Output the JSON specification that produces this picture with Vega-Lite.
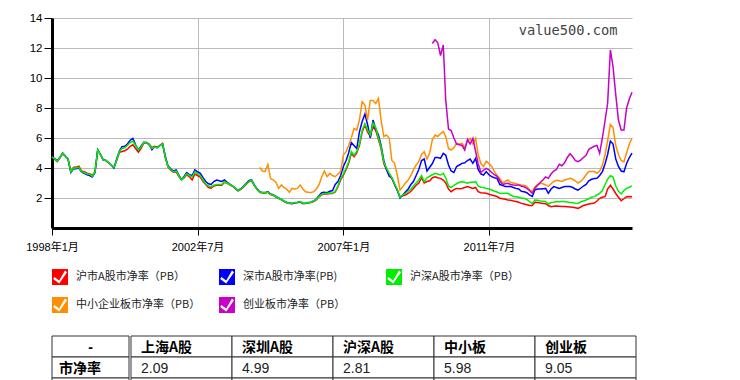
{
"$schema": "https://vega.github.io/schema/vega-lite/v6.json",
"background": "white",
"padding": {"left": 25, "top": 12, "right": 5, "bottom": 5},
"spacing": 22,
"config": {"view": {"stroke": null}, "font": "Liberation Sans"},
"resolve": {"legend": {"color": "independent"}},
"datasets": {
"names": [{"k":"r","n":"沪市A股市净率（PB）"},{"k":"b","n":"深市A股市净率(PB)"},{"k":"g","n":"沪深A股市净率（PB）"},{"k":"o","n":"中小企业板市净率（PB）"},{"k":"p","n":"创业板市净率（PB）"}],
"tA": [{"c":"-","v":"市净率"}],
"tB": [{"c":"上海A股","v":"2.09"},{"c":"深圳A股","v":"4.99"},{"c":"沪深A股","v":"2.81"},{"c":"中小板","v":"5.98"},{"c":"创业板","v":"9.05"}],
"pb": [
{"d":"1998-01-01","r":4.72,"b":4.75,"g":4.75},
{"d":"1998-02-01","r":4.58,"b":4.62,"g":4.6},
{"d":"1998-03-01","r":4.42,"b":4.48,"g":4.45},
{"d":"1998-04-01","r":4.68,"b":4.72,"g":4.7},
{"d":"1998-05-01","r":4.95,"b":5.0,"g":4.98},
{"d":"1998-06-01","r":4.78,"b":4.8,"g":4.8},
{"d":"1998-07-01","r":4.6,"b":4.6,"g":4.6},
{"d":"1998-08-01","r":3.78,"b":3.7,"g":3.75},
{"d":"1998-09-01","r":4.05,"b":3.95,"g":4.0},
{"d":"1998-10-01","r":4.05,"b":3.95,"g":4.0},
{"d":"1998-11-01","r":4.12,"b":4.0,"g":4.05},
{"d":"1998-12-01","r":3.8,"b":3.72,"g":3.75},
{"d":"1999-01-01","r":3.75,"b":3.65,"g":3.7},
{"d":"1999-02-01","r":3.65,"b":3.55,"g":3.6},
{"d":"1999-03-01","r":3.62,"b":3.5,"g":3.6},
{"d":"1999-04-01","r":3.5,"b":3.4,"g":3.45},
{"d":"1999-05-01","r":3.75,"b":3.7,"g":3.75},
{"d":"1999-06-01","r":5.2,"b":5.22,"g":5.2},
{"d":"1999-07-01","r":4.9,"b":4.9,"g":4.9},
{"d":"1999-08-01","r":4.55,"b":4.55,"g":4.55},
{"d":"1999-09-01","r":4.5,"b":4.5,"g":4.5},
{"d":"1999-10-01","r":4.35,"b":4.35,"g":4.35},
{"d":"1999-11-01","r":4.2,"b":4.2,"g":4.2},
{"d":"1999-12-01","r":4.05,"b":4.0,"g":4.05},
{"d":"2000-01-01","r":4.5,"b":4.6,"g":4.55},
{"d":"2000-02-01","r":5.05,"b":5.15,"g":5.1},
{"d":"2000-03-01","r":5.1,"b":5.42,"g":5.3},
{"d":"2000-04-01","r":5.15,"b":5.45,"g":5.35},
{"d":"2000-05-01","r":5.25,"b":5.6,"g":5.5},
{"d":"2000-06-01","r":5.45,"b":5.85,"g":5.7},
{"d":"2000-07-01","r":5.55,"b":5.98,"g":5.8},
{"d":"2000-08-01","r":5.3,"b":5.55,"g":5.5},
{"d":"2000-09-01","r":5.05,"b":5.2,"g":5.2},
{"d":"2000-10-01","r":5.3,"b":5.45,"g":5.4},
{"d":"2000-11-01","r":5.65,"b":5.72,"g":5.7},
{"d":"2000-12-01","r":5.7,"b":5.7,"g":5.7},
{"d":"2001-01-01","r":5.6,"b":5.55,"g":5.55},
{"d":"2001-02-01","r":5.35,"b":5.22,"g":5.3},
{"d":"2001-03-01","r":5.45,"b":5.4,"g":5.4},
{"d":"2001-04-01","r":5.38,"b":5.35,"g":5.35},
{"d":"2001-05-01","r":5.5,"b":5.5,"g":5.5},
{"d":"2001-06-01","r":5.65,"b":5.6,"g":5.62},
{"d":"2001-07-01","r":4.75,"b":4.8,"g":4.75},
{"d":"2001-08-01","r":4.05,"b":4.15,"g":4.1},
{"d":"2001-09-01","r":3.85,"b":3.95,"g":3.9},
{"d":"2001-10-01","r":3.72,"b":3.8,"g":3.75},
{"d":"2001-11-01","r":3.75,"b":3.87,"g":3.8},
{"d":"2001-12-01","r":3.45,"b":3.55,"g":3.5},
{"d":"2002-01-01","r":3.2,"b":3.22,"g":3.2},
{"d":"2002-02-01","r":3.35,"b":3.45,"g":3.4},
{"d":"2002-03-01","r":3.55,"b":3.7,"g":3.6},
{"d":"2002-04-01","r":3.4,"b":3.55,"g":3.5},
{"d":"2002-05-01","r":3.2,"b":3.5,"g":3.4},
{"d":"2002-06-01","r":3.6,"b":3.87,"g":3.75},
{"d":"2002-07-01","r":3.5,"b":3.75,"g":3.6},
{"d":"2002-08-01","r":3.4,"b":3.65,"g":3.5},
{"d":"2002-09-01","r":3.1,"b":3.35,"g":3.2},
{"d":"2002-10-01","r":2.9,"b":3.1,"g":2.95},
{"d":"2002-11-01","r":2.7,"b":2.95,"g":2.8},
{"d":"2002-12-01","r":2.65,"b":2.9,"g":2.75},
{"d":"2003-01-01","r":2.8,"b":3.1,"g":2.85},
{"d":"2003-02-01","r":2.85,"b":3.2,"g":2.9},
{"d":"2003-03-01","r":2.85,"b":3.15,"g":2.9},
{"d":"2003-04-01","r":2.85,"b":3.1,"g":2.9},
{"d":"2003-05-01","r":3.05,"b":3.2,"g":3.1},
{"d":"2003-06-01","r":2.98,"b":3.05,"g":3.0},
{"d":"2003-07-01","r":2.88,"b":2.92,"g":2.9},
{"d":"2003-08-01","r":2.78,"b":2.8,"g":2.8},
{"d":"2003-09-01","r":2.62,"b":2.65,"g":2.65},
{"d":"2003-10-01","r":2.48,"b":2.5,"g":2.5},
{"d":"2003-11-01","r":2.58,"b":2.62,"g":2.6},
{"d":"2003-12-01","r":2.72,"b":2.78,"g":2.75},
{"d":"2004-01-01","r":2.92,"b":2.98,"g":2.95},
{"d":"2004-02-01","r":3.08,"b":3.15,"g":3.1},
{"d":"2004-03-01","r":3.18,"b":3.22,"g":3.2},
{"d":"2004-04-01","r":2.82,"b":2.88,"g":2.85},
{"d":"2004-05-01","r":2.58,"b":2.62,"g":2.6},
{"d":"2004-06-01","r":2.38,"b":2.42,"g":2.4,"o":4.04},
{"d":"2004-07-01","r":2.33,"b":2.36,"g":2.35,"o":3.8},
{"d":"2004-08-01","r":2.33,"b":2.36,"g":2.35,"o":3.76},
{"d":"2004-09-01","r":2.38,"b":2.42,"g":2.4,"o":4.24},
{"d":"2004-10-01","r":2.23,"b":2.26,"g":2.25,"o":3.31},
{"d":"2004-11-01","r":2.18,"b":2.22,"g":2.2,"o":3.2},
{"d":"2004-12-01","r":2.08,"b":2.1,"g":2.1,"o":3.05},
{"d":"2005-01-01","r":1.98,"b":2.0,"g":2.0,"o":2.64},
{"d":"2005-02-01","r":1.88,"b":1.9,"g":1.9,"o":2.87},
{"d":"2005-03-01","r":1.78,"b":1.8,"g":1.8,"o":2.7},
{"d":"2005-04-01","r":1.68,"b":1.72,"g":1.7,"o":2.6},
{"d":"2005-05-01","r":1.63,"b":1.66,"g":1.65,"o":2.38},
{"d":"2005-06-01","r":1.63,"b":1.62,"g":1.65,"o":2.64},
{"d":"2005-07-01","r":1.68,"b":1.68,"g":1.7,"o":2.6},
{"d":"2005-08-01","r":1.7,"b":1.7,"g":1.72,"o":2.64},
{"d":"2005-09-01","r":1.74,"b":1.75,"g":1.76,"o":2.87},
{"d":"2005-10-01","r":1.63,"b":1.64,"g":1.65,"o":2.6},
{"d":"2005-11-01","r":1.63,"b":1.65,"g":1.65,"o":2.42},
{"d":"2005-12-01","r":1.68,"b":1.7,"g":1.7,"o":2.38},
{"d":"2006-01-01","r":1.7,"b":1.72,"g":1.72,"o":2.36},
{"d":"2006-02-01","r":1.78,"b":1.8,"g":1.8,"o":2.42},
{"d":"2006-03-01","r":1.88,"b":1.92,"g":1.9,"o":2.6},
{"d":"2006-04-01","r":2.08,"b":2.15,"g":2.1,"o":2.87},
{"d":"2006-05-01","r":2.22,"b":2.35,"g":2.25,"o":3.4},
{"d":"2006-06-01","r":2.27,"b":2.38,"g":2.3,"o":3.8},
{"d":"2006-07-01","r":2.27,"b":2.35,"g":2.3,"o":3.42},
{"d":"2006-08-01","r":2.3,"b":2.45,"g":2.35,"o":3.64},
{"d":"2006-09-01","r":2.3,"b":2.5,"g":2.3,"o":3.5},
{"d":"2006-10-01","r":2.4,"b":2.9,"g":2.45,"o":3.42},
{"d":"2006-11-01","r":2.76,"b":3.1,"g":2.8,"o":3.6},
{"d":"2006-12-01","r":3.2,"b":3.5,"g":3.3,"o":3.76},
{"d":"2007-01-01","r":3.53,"b":4.1,"g":3.6,"o":4.87},
{"d":"2007-02-01","r":3.9,"b":4.5,"g":4.0,"o":5.09},
{"d":"2007-03-01","r":4.3,"b":5.0,"g":4.4,"o":5.5},
{"d":"2007-04-01","r":4.98,"b":5.7,"g":5.1,"o":6.0},
{"d":"2007-05-01","r":4.75,"b":5.5,"g":4.85,"o":6.64},
{"d":"2007-06-01","r":5.0,"b":5.3,"g":5.1,"o":6.53},
{"d":"2007-07-01","r":5.5,"b":6.4,"g":5.6,"o":7.2},
{"d":"2007-08-01","r":6.4,"b":7.1,"g":6.5,"o":8.42},
{"d":"2007-09-01","r":6.87,"b":7.6,"g":6.95,"o":8.2},
{"d":"2007-10-01","r":6.4,"b":6.9,"g":6.55,"o":7.2},
{"d":"2007-11-01","r":6.1,"b":6.0,"g":6.2,"o":8.5},
{"d":"2007-12-01","r":6.8,"b":7.2,"g":7.0,"o":8.5},
{"d":"2008-01-01","r":6.5,"b":6.6,"g":6.7,"o":8.3},
{"d":"2008-02-01","r":5.9,"b":6.2,"g":6.0,"o":8.64},
{"d":"2008-03-01","r":5.3,"b":5.5,"g":5.4,"o":7.2},
{"d":"2008-04-01","r":4.3,"b":4.5,"g":4.4,"o":6.1},
{"d":"2008-05-01","r":3.9,"b":3.9,"g":4.0,"o":6.2},
{"d":"2008-06-01","r":3.6,"b":3.45,"g":3.65,"o":6.0},
{"d":"2008-07-01","r":3.3,"b":3.35,"g":3.35,"o":4.5},
{"d":"2008-08-01","r":2.9,"b":2.9,"g":2.95,"o":4.31},
{"d":"2008-09-01","r":2.5,"b":2.5,"g":2.55,"o":3.5},
{"d":"2008-10-01","r":2.09,"b":2.0,"g":2.05,"o":2.53},
{"d":"2008-11-01","r":2.15,"b":2.2,"g":2.2,"o":2.76},
{"d":"2008-12-01","r":2.2,"b":2.4,"g":2.3,"o":3.0},
{"d":"2009-01-01","r":2.3,"b":2.6,"g":2.45,"o":3.2},
{"d":"2009-02-01","r":2.45,"b":2.9,"g":2.6,"o":3.5},
{"d":"2009-03-01","r":2.64,"b":3.1,"g":2.8,"o":3.87},
{"d":"2009-04-01","r":2.85,"b":3.5,"g":3.0,"o":4.2},
{"d":"2009-05-01","r":3.0,"b":3.9,"g":3.2,"o":4.42},
{"d":"2009-06-01","r":3.35,"b":4.5,"g":3.5,"o":4.9},
{"d":"2009-07-01","r":3.0,"b":4.6,"g":3.1,"o":5.09},
{"d":"2009-08-01","r":3.1,"b":3.8,"g":3.35,"o":4.6},
{"d":"2009-09-01","r":3.15,"b":4.05,"g":3.45,"o":5.0},
{"d":"2009-10-01","r":3.35,"b":4.3,"g":3.55,"o":5.9,"p":12.3},
{"d":"2009-11-01","r":3.42,"b":4.7,"g":3.64,"o":6.2,"p":12.55},
{"d":"2009-12-01","r":3.35,"b":4.7,"g":3.58,"o":6.1,"p":12.35},
{"d":"2010-01-01","r":3.31,"b":4.64,"g":3.53,"o":6.3,"p":11.5},
{"d":"2010-02-01","r":3.2,"b":4.98,"g":3.64,"o":6.42,"p":12.2},
{"d":"2010-03-01","r":3.0,"b":4.85,"g":3.35,"o":6.1,"p":8.5},
{"d":"2010-04-01","r":2.6,"b":4.2,"g":2.8,"o":5.3,"p":6.6},
{"d":"2010-05-01","r":2.42,"b":3.8,"g":2.7,"o":5.2,"p":6.5},
{"d":"2010-06-01","r":2.55,"b":3.7,"g":2.85,"o":5.35,"p":6.0},
{"d":"2010-07-01","r":2.64,"b":4.1,"g":2.95,"o":5.64,"p":5.6},
{"d":"2010-08-01","r":2.62,"b":4.2,"g":3.05,"o":5.6,"p":5.55},
{"d":"2010-09-01","r":2.64,"b":4.31,"g":3.09,"o":5.64,"p":5.5},
{"d":"2010-10-01","r":2.7,"b":4.35,"g":3.05,"o":5.35,"p":5.2},
{"d":"2010-11-01","r":2.76,"b":4.5,"g":2.98,"o":5.8,"p":5.9},
{"d":"2010-12-01","r":2.7,"b":4.6,"g":3.05,"o":5.98,"p":5.6},
{"d":"2011-01-01","r":2.64,"b":4.31,"g":3.05,"o":5.6,"p":5.98},
{"d":"2011-02-01","r":2.7,"b":4.64,"g":3.09,"o":5.98,"p":5.1},
{"d":"2011-03-01","r":2.42,"b":3.9,"g":2.8,"o":4.9,"p":4.3},
{"d":"2011-04-01","r":2.35,"b":3.6,"g":2.72,"o":4.3,"p":3.7},
{"d":"2011-05-01","r":2.33,"b":3.53,"g":2.7,"o":4.1,"p":3.85},
{"d":"2011-06-01","r":2.31,"b":3.76,"g":2.64,"o":4.45,"p":3.98},
{"d":"2011-07-01","r":2.25,"b":3.55,"g":2.6,"o":4.3,"p":3.87},
{"d":"2011-08-01","r":2.2,"b":3.42,"g":2.53,"o":4.1,"p":3.7},
{"d":"2011-09-01","r":2.15,"b":3.35,"g":2.45,"o":3.76,"p":3.55},
{"d":"2011-10-01","r":2.1,"b":3.31,"g":2.4,"o":3.5,"p":3.45},
{"d":"2011-11-01","r":1.98,"b":2.9,"g":2.31,"o":3.3,"p":3.15},
{"d":"2011-12-01","r":1.95,"b":2.85,"g":2.3,"o":3.0,"p":2.9},
{"d":"2012-01-01","r":1.92,"b":2.76,"g":2.31,"o":3.1,"p":2.95},
{"d":"2012-02-01","r":1.87,"b":2.76,"g":2.31,"o":3.2,"p":2.98},
{"d":"2012-03-01","r":1.85,"b":2.76,"g":2.2,"o":3.05,"p":2.9},
{"d":"2012-04-01","r":1.8,"b":2.7,"g":2.1,"o":3.0,"p":2.87},
{"d":"2012-05-01","r":1.76,"b":2.64,"g":2.09,"o":2.95,"p":2.85},
{"d":"2012-06-01","r":1.72,"b":2.6,"g":2.05,"o":2.9,"p":2.87},
{"d":"2012-07-01","r":1.64,"b":2.45,"g":1.98,"o":2.87,"p":2.78},
{"d":"2012-08-01","r":1.6,"b":2.42,"g":1.98,"o":2.85,"p":2.75},
{"d":"2012-09-01","r":1.55,"b":2.35,"g":1.9,"o":2.76,"p":2.64},
{"d":"2012-10-01","r":1.5,"b":2.2,"g":1.75,"o":2.55,"p":2.5},
{"d":"2012-11-01","r":1.5,"b":2.1,"g":1.64,"o":2.42,"p":2.31},
{"d":"2012-12-01","r":1.72,"b":2.55,"g":1.87,"o":2.75,"p":2.65},
{"d":"2013-01-01","r":1.7,"b":2.6,"g":1.85,"o":2.9,"p":2.85},
{"d":"2013-02-01","r":1.66,"b":2.6,"g":1.8,"o":2.98,"p":3.05},
{"d":"2013-03-01","r":1.64,"b":2.62,"g":1.78,"o":2.95,"p":3.2},
{"d":"2013-04-01","r":1.62,"b":2.64,"g":1.76,"o":2.87,"p":3.4},
{"d":"2013-05-01","r":1.5,"b":2.31,"g":1.6,"o":2.78,"p":3.31},
{"d":"2013-06-01","r":1.42,"b":2.6,"g":1.7,"o":2.95,"p":3.6},
{"d":"2013-07-01","r":1.45,"b":2.76,"g":1.72,"o":3.1,"p":3.8},
{"d":"2013-08-01","r":1.46,"b":2.7,"g":1.76,"o":3.18,"p":3.9},
{"d":"2013-09-01","r":1.45,"b":2.64,"g":1.75,"o":3.15,"p":4.25},
{"d":"2013-10-01","r":1.44,"b":2.7,"g":1.76,"o":3.1,"p":4.15},
{"d":"2013-11-01","r":1.43,"b":2.76,"g":1.76,"o":3.2,"p":4.35},
{"d":"2013-12-01","r":1.42,"b":2.76,"g":1.73,"o":3.25,"p":4.7},
{"d":"2014-01-01","r":1.4,"b":2.76,"g":1.7,"o":3.31,"p":4.95},
{"d":"2014-02-01","r":1.38,"b":2.7,"g":1.68,"o":3.25,"p":4.75},
{"d":"2014-03-01","r":1.35,"b":2.6,"g":1.65,"o":3.15,"p":4.5},
{"d":"2014-04-01","r":1.31,"b":2.53,"g":1.64,"o":3.0,"p":4.42},
{"d":"2014-05-01","r":1.4,"b":2.65,"g":1.75,"o":3.1,"p":4.53},
{"d":"2014-06-01","r":1.5,"b":2.8,"g":1.8,"o":3.3,"p":4.7},
{"d":"2014-07-01","r":1.55,"b":2.9,"g":1.87,"o":3.55,"p":4.85},
{"d":"2014-08-01","r":1.6,"b":3.15,"g":1.95,"o":3.76,"p":5.25},
{"d":"2014-09-01","r":1.64,"b":3.25,"g":2.05,"o":3.76,"p":5.35},
{"d":"2014-10-01","r":1.66,"b":3.3,"g":2.09,"o":3.76,"p":5.45},
{"d":"2014-11-01","r":1.8,"b":3.31,"g":2.2,"o":3.65,"p":5.5},
{"d":"2014-12-01","r":1.98,"b":3.5,"g":2.31,"o":3.8,"p":4.98},
{"d":"2015-01-01","r":2.05,"b":3.76,"g":2.5,"o":4.2,"p":6.0},
{"d":"2015-02-01","r":2.1,"b":4.3,"g":2.9,"o":4.9,"p":7.2},
{"d":"2015-03-01","r":2.6,"b":4.9,"g":3.25,"o":5.8,"p":8.3},
{"d":"2015-04-01","r":2.85,"b":5.8,"g":3.49,"o":6.9,"p":11.87},
{"d":"2015-05-01","r":2.6,"b":5.6,"g":3.4,"o":6.7,"p":10.76},
{"d":"2015-06-01","r":2.3,"b":4.6,"g":2.8,"o":5.5,"p":8.87},
{"d":"2015-07-01","r":2.05,"b":4.1,"g":2.45,"o":4.9,"p":7.2},
{"d":"2015-08-01","r":1.82,"b":3.8,"g":2.27,"o":4.5,"p":6.53},
{"d":"2015-09-01","r":1.95,"b":3.75,"g":2.5,"o":4.4,"p":6.53},
{"d":"2015-10-01","r":2.09,"b":4.3,"g":2.64,"o":5.0,"p":8.0},
{"d":"2015-11-01","r":2.1,"b":4.7,"g":2.72,"o":5.6,"p":8.6},
{"d":"2015-12-01","r":2.09,"b":4.99,"g":2.81,"o":5.98,"p":9.05}
]
},
"vconcat": [
{
"width": 580,
"height": 210,
"layer": [
{
"data": {"name": "pb"},
"transform": [
{"fold": ["r","b","g","o","p"], "as": ["k","v"]},
{"lookup": "k", "from": {"data": {"name": "names"}, "key": "k", "fields": ["n"]}}
],
"mark": {"type": "line", "strokeWidth": 1.5},
"encoding": {
"x": {"field": "d", "type": "temporal",
"scale": {"type": "utc", "domain": [{"year": 1998, "month": 1, "date": 1, "utc": true}, {"year": 2015, "month": 12, "date": 1, "utc": true}]},
"axis": {"title": null, "values": [{"year": 1998, "month": 1, "date": 1, "utc": true}, {"year": 2002, "month": 7, "date": 1, "utc": true}, {"year": 2007, "month": 1, "date": 1, "utc": true}, {"year": 2011, "month": 7, "date": 1, "utc": true}], "tickCount": 30,
"format": "%Y年%-m月", "labelFlush": false, "labelOverlap": false, "labelAngle": 0, "labelFont": "Liberation Sans, Noto Sans CJK SC", "labelFontSize": 11, "labelColor": "#000", "labelPadding": 6,
"tickSize": 7, "tickColor": "#000", "tickWidth": 1, "domainColor": "#000", "domainWidth": 3, "grid": true, "gridColor": "#bbbbbb", "gridWidth": 1}},
"y": {"field": "v", "type": "quantitative",
"scale": {"domain": [0, 14], "nice": false},
"axis": {"title": null, "values": [2, 4, 6, 8, 10, 12, 14], "tickCount": 30, "format": "d", "labelOverlap": false, "labelFlush": false, "labelFont": "Liberation Sans", "labelFontSize": 11.5, "labelColor": "#000", "labelPadding": 2,
"tickSize": 8, "tickColor": "#000", "tickWidth": 1, "domainColor": "#000", "domainWidth": 3, "grid": true, "gridColor": "#bbbbbb", "gridWidth": 1}},
"color": {"field": "n", "type": "nominal",
"scale": {"domain": ["沪市A股市净率（PB）","深市A股市净率(PB)","沪深A股市净率（PB）","中小企业板市净率（PB）","创业板市净率（PB）"], "range": ["#ff0000","#0000ff","#00ee00","#ff8f00","#c800c8"]},
"legend": {"title": null, "orient": "none", "legendX": 0, "legendY": 251, "direction": "horizontal", "columns": 3, "gridAlign": "all", "columnPadding": 18, "rowPadding": 12,
"symbolType": "M-1,-1L1,-1L1,1L-1,1Z M-0.7,0 L-0.85,0.25 L-0.1,0.8 L0.88,-0.6 L0.62,-0.82 L-0.1,0.45 Z", "symbolSize": 256, "symbolStrokeWidth": 0,
"labelFont": "Noto Sans CJK SC", "labelFontSize": 11, "labelColor": "#222", "labelOffset": 8, "labelLimit": 300, "padding": 0,
"encode": {"symbols": {"update": {"fill": {"scale": "color", "field": "value"}, "stroke": {"value": "transparent"}, "strokeWidth": {"value": 0}, "opacity": {"value": 1}}}}}
}
}
},
{
"data": {"values": [{}]},
"mark": {"type": "text", "text": "value500.com", "font": "DejaVu Sans Mono", "fontSize": 13.7, "color": "#444", "align": "center", "baseline": "middle"},
"encoding": {"x": {"datum": {"year": 2013, "month": 12, "date": 10, "utc": true}, "type": "temporal"}, "y": {"datum": 13.15, "type": "quantitative"}}
}
]
},
{
"spacing": 0,
"hconcat": [
{
"width": 77,
"height": 63,
"data": {"name": "tA"},
"encoding": {"x": {"datum": "a", "type": "nominal", "scale": {"paddingInner": 0, "paddingOuter": 0}, "axis": null}},
"layer": [
{"mark": {"type": "rect", "fill": "white", "stroke": "#333", "strokeWidth": 1}, "encoding": {"y": {"datum": "h", "type": "nominal", "scale": {"domain": ["h", "v", "n"], "paddingInner": 0, "paddingOuter": 0}, "axis": null}}},
{"mark": {"type": "rect", "fill": "white", "stroke": "#333", "strokeWidth": 1}, "encoding": {"y": {"datum": "v", "type": "nominal"}}},
{"mark": {"type": "rect", "fill": "white", "stroke": "#333", "strokeWidth": 1}, "encoding": {"y": {"datum": "n", "type": "nominal"}}},
{"mark": {"type": "text", "align": "center", "baseline": "middle", "font": "Liberation Sans", "fontSize": 14, "fontWeight": "bold", "color": "#000", "dy": 1}, "encoding": {"y": {"datum": "h", "type": "nominal"}, "text": {"field": "c"}}},
{"mark": {"type": "text", "align": "left", "baseline": "middle", "font": "Noto Sans CJK SC", "fontSize": 14, "fontWeight": "bold", "color": "#000", "dx": 7, "dy": 1}, "encoding": {"x": {"datum": "a", "type": "nominal", "bandPosition": 0}, "y": {"datum": "v", "type": "nominal"}, "text": {"field": "v"}}}
]
},
{
"width": 505,
"height": 63,
"data": {"name": "tB"},
"encoding": {"x": {"field": "c", "type": "nominal", "sort": null, "scale": {"paddingInner": 0, "paddingOuter": 0}, "axis": null}},
"layer": [
{"mark": {"type": "rect", "fill": "white", "stroke": "#333", "strokeWidth": 1}, "encoding": {"y": {"datum": "h", "type": "nominal", "scale": {"domain": ["h", "v", "n"], "paddingInner": 0, "paddingOuter": 0}, "axis": null}}},
{"mark": {"type": "rect", "fill": "white", "stroke": "#333", "strokeWidth": 1}, "encoding": {"y": {"datum": "v", "type": "nominal"}}},
{"mark": {"type": "rect", "fill": "white", "stroke": "#333", "strokeWidth": 1}, "encoding": {"y": {"datum": "n", "type": "nominal"}}},
{"mark": {"type": "text", "align": "left", "baseline": "middle", "font": "Noto Sans CJK SC", "fontSize": 14, "fontWeight": "bold", "color": "#000", "dx": 10, "dy": 1}, "encoding": {"x": {"field": "c", "type": "nominal", "sort": null, "bandPosition": 0}, "y": {"datum": "h", "type": "nominal"}, "text": {"field": "c"}}},
{"mark": {"type": "text", "align": "left", "baseline": "middle", "font": "Liberation Sans", "fontSize": 14, "color": "#222", "dx": 10, "dy": 1}, "encoding": {"x": {"field": "c", "type": "nominal", "sort": null, "bandPosition": 0}, "y": {"datum": "v", "type": "nominal"}, "text": {"field": "v"}}}
]
}
]
}
]
}
